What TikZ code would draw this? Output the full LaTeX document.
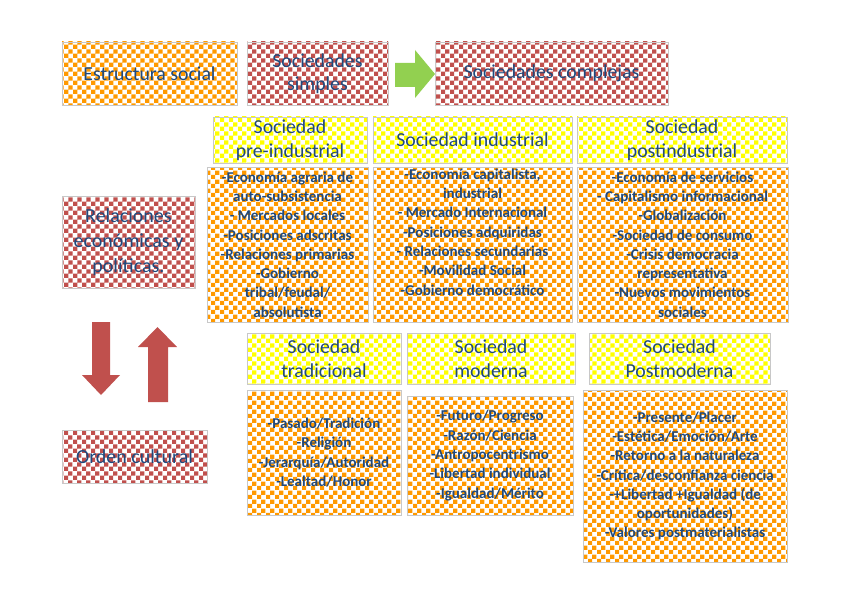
\documentclass[tikz,border=0pt]{standalone}
\usepackage{fontspec}
\setmainfont{Carlito}
\usetikzlibrary{patterns}
\definecolor{orng}{HTML}{FF9900}
\definecolor{ylw}{HTML}{FFFF00}
\definecolor{rd}{HTML}{C0504D}
\definecolor{grn}{HTML}{92D050}
\definecolor{txt}{HTML}{1F497D}
\definecolor{brd}{HTML}{C8C8C8}
\pgfdeclarepatternformonly{chk}{\pgfpointorigin}{\pgfqpoint{9.2pt}{9.2pt}}{\pgfqpoint{9.2pt}{9.2pt}}{%
  \pgfpathrectangle{\pgfpointorigin}{\pgfqpoint{4.6pt}{4.6pt}}%
  \pgfpathrectangle{\pgfqpoint{4.6pt}{4.6pt}}{\pgfqpoint{4.6pt}{4.6pt}}%
  \pgfusepath{fill}}
\tikzset{
  box/.style={rectangle, draw=brd, line width=0.8pt, inner sep=0pt, outer sep=0pt, align=center, text=txt},
  obox/.style={box, pattern=chk, pattern color=orng},
  ybox/.style={box, pattern=chk, pattern color=ylw, font=\fontsize{19.8}{23.5}\selectfont},
  rbox/.style={box, pattern=chk, pattern color=rd},
  body/.style={obox, font=\fontsize{15}{19.3}\selectfont\bfseries},
  big/.style={font=\fontsize{19.8}{23.5}\selectfont},
  huge/.style={font=\fontsize{20}{25}\selectfont},
}
\begin{document}
\begin{tikzpicture}[x=1pt,y=-1pt]
\useasboundingbox (0,0) rectangle (848,599);
% top row
\node[obox,big,minimum width=175pt,minimum height=63pt] (est) at (149.5,73.5) {Estructura social};
\node[rbox,big,minimum width=141pt,minimum height=63pt] (simp) at (317.5,73.5) {Sociedades\\simples};
\node[rbox,big,minimum width=233pt,minimum height=63pt] (comp) at (551.5,73.5) {Sociedades complejas};
\fill[grn] (395,63) -- (415,63) -- (415,50) -- (435,74) -- (415,98) -- (415,87) -- (395,87) -- cycle;
% economic row
\node[ybox,minimum width=154pt,minimum height=46pt] (preH) at (290,140) {Sociedad\\pre-industrial};
\node[ybox,minimum width=199pt,minimum height=46pt] (indH) at (472.5,140) {Sociedad industrial};
\node[ybox,minimum width=210pt,minimum height=46pt] (postH) at (682,140) {Sociedad\\postindustrial};
\node[body,minimum width=161pt,minimum height=155pt] (preB) at (287.5,244.5) {-Economía agraria de\\auto-subsistencia\\- Mercados locales\\-Posiciones adscritas\\-Relaciones primarias\\-Gobierno\\tribal/feudal/\\absolutista};
\node[body,minimum width=199pt,minimum height=155pt] (indB) at (472.5,244.5) {-Economía capitalista,\\industrial\\- Mercado Internacional\\-Posiciones adquiridas\\- Relaciones secundarias\\-Movilidad Social\\-Gobierno democrático\\\strut};
\node[body,minimum width=211pt,minimum height=155pt] (postB) at (682.5,244.5) {-Economía de servicios\\- Capitalismo informacional\\-Globalización\\-Sociedad de consumo\\-Crisis  democracia\\representativa\\-Nuevos movimientos\\sociales};
% left column
\node[rbox,huge,minimum width=133pt,minimum height=92pt] (rel) at (128.5,242) {Relaciones\\económicas y\\políticas.};
\node[rbox,huge,minimum width=145pt,minimum height=53pt] (ord) at (134.5,456.5) {Orden cultural};
\fill[rd] (92,322) -- (110,322) -- (110,375) -- (120,375) -- (101,395) -- (82,375) -- (92,375) -- cycle;
\fill[rd] (148,402) -- (168,402) -- (168,347) -- (177,347) -- (157.5,327) -- (138,347) -- (148,347) -- cycle;
% cultural row
\node[ybox,minimum width=154pt,minimum height=51pt] (tradH) at (324,358.5) {Sociedad\\tradicional};
\node[ybox,minimum width=168pt,minimum height=51pt] (modH) at (491,358.5) {Sociedad\\moderna};
\node[ybox,minimum width=181pt,minimum height=51pt] (pmH) at (679.5,358.5) {Sociedad\\Postmoderna};
\node[body,minimum width=154pt,minimum height=125pt] (tradB) at (324,452.5) {-Pasado/Tradición\\-Religión\\-Jerarquía/Autoridad\\-Lealtad/Honor};
\node[body,minimum width=166pt,minimum height=119pt] (modB) at (490,455.5) {-Futuro/Progreso\\-Razón/Ciencia\\-Antropocentrismo\\-Libertad individual\\-Igualdad/Mérito};
\node[body,minimum width=204pt,minimum height=172pt] (pmB) at (685,476) {-Presente/Placer\\-Estética/Emoción/Arte\\-Retorno a la naturaleza\\-Crítica/desconfianza ciencia\\-+Libertad +Igualdad (de\\oportunidades)\\-Valores postmaterialistas};
\end{tikzpicture}
\end{document}
